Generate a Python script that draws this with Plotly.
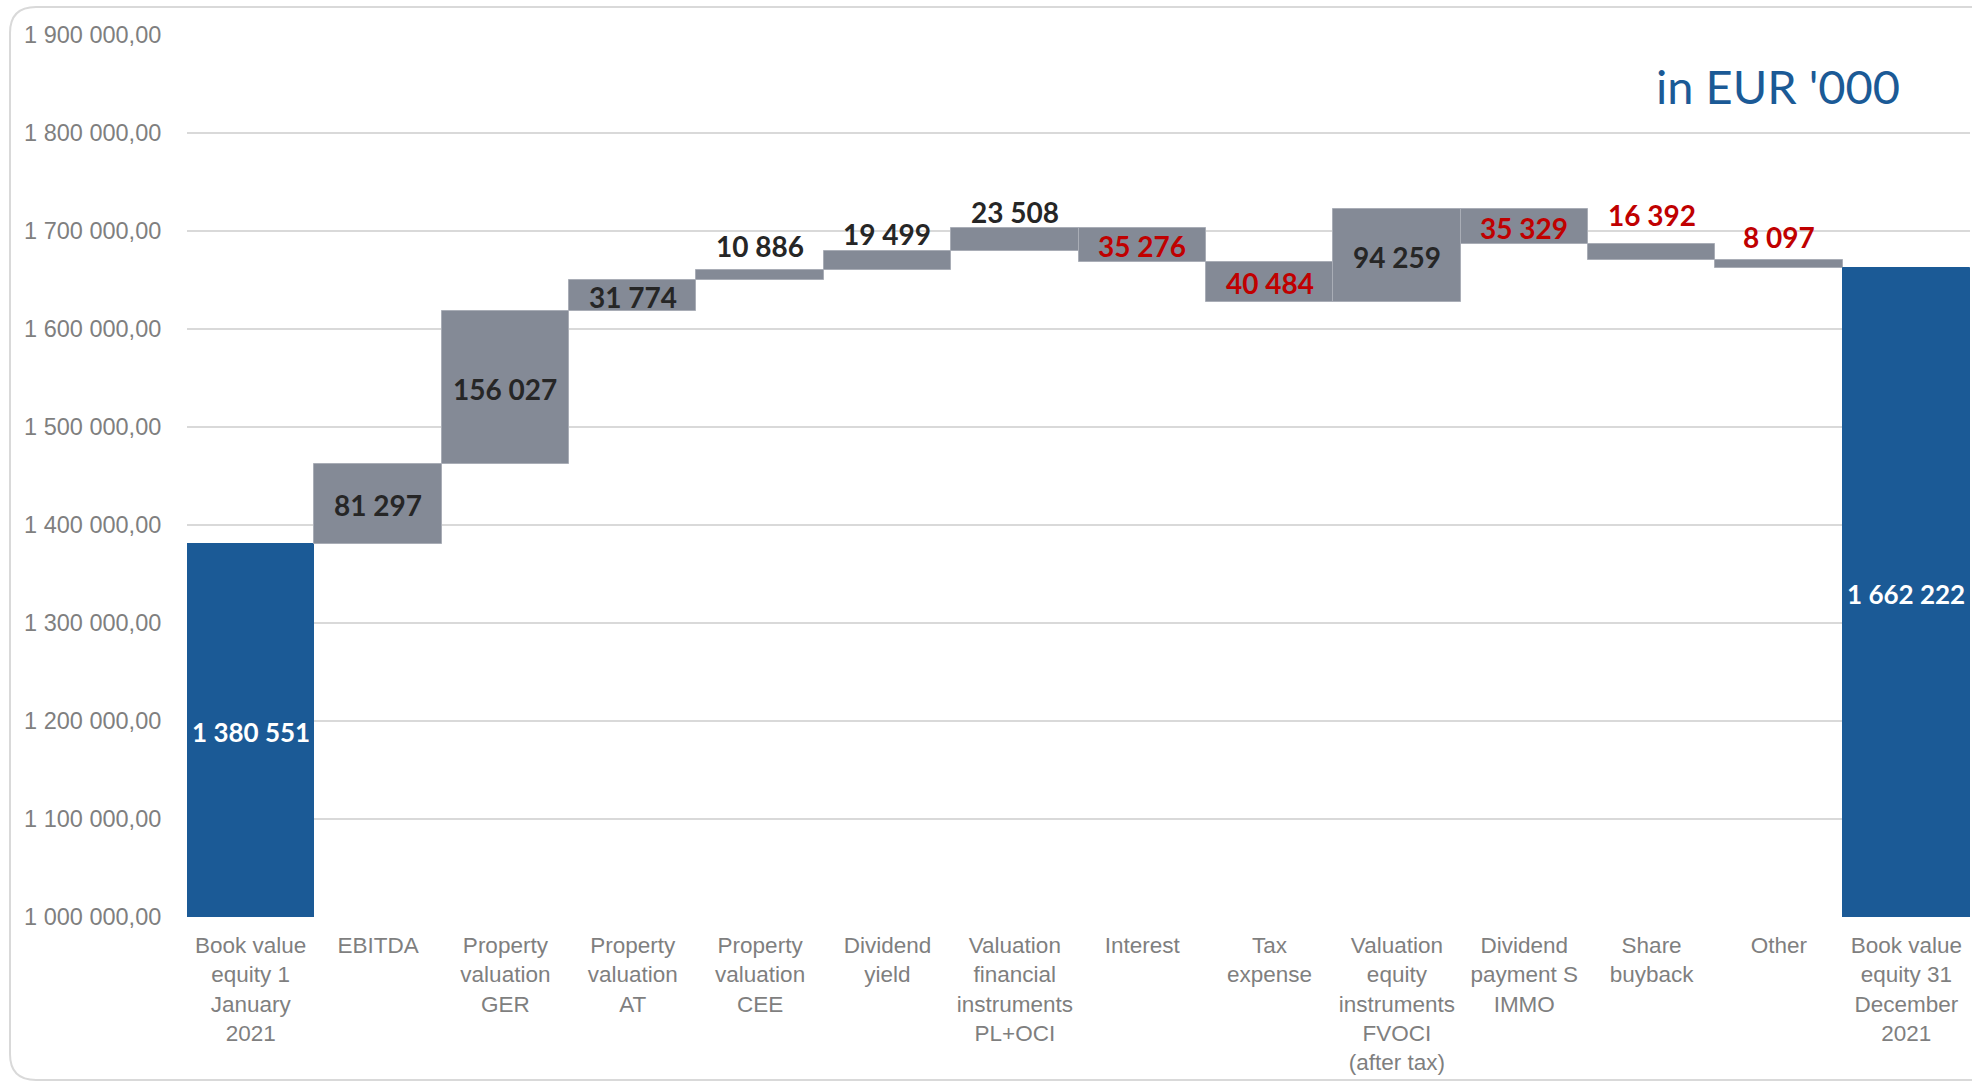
import plotly.graph_objects as go

# Equity bridge 2021, values in EUR '000
categories = [
    "Book value<br>equity 1<br>January<br>2021",
    "EBITDA",
    "Property<br>valuation<br>GER",
    "Property<br>valuation<br>AT",
    "Property<br>valuation<br>CEE",
    "Dividend<br>yield",
    "Valuation<br>financial<br>instruments<br>PL+OCI",
    "Interest",
    "Tax<br>expense",
    "Valuation<br>equity<br>instruments<br>FVOCI<br>(after tax)",
    "Dividend<br>payment S<br>IMMO",
    "Share<br>buyback",
    "Other",
    "Book value<br>equity 31<br>December<br>2021",
]
opening_equity = 1380551
changes = [81297, 156027, 31774, 10886, 19499, 23508,
           -35276, -40484, 94259, -35329, -16392, -8097]
closing_equity = 1662222

y_ticks = [1000000, 1100000, 1200000, 1300000, 1400000,
           1500000, 1600000, 1700000, 1800000, 1900000]

BLUE = "#1b5a96"
GREY = "#848a96"
RED = "#c00000"
DARK = "#262626"

W, H = 1972, 1084
L, R, T, B = 187, 2, 35, 167

# pixel lift of labels that sit above short segments (keyed by category index)
label_lift = {4: 24, 5: 17, 6: 16, 11: 29, 12: 23}
CENTER_NUDGE = -1


def fmt(v):
    return f"{abs(v):,}".replace(",", " ")


# build floating segments
bases, heights, colors, line_colors = [0], [opening_equity], [BLUE], [BLUE]
running = opening_equity
for d in changes:
    lo = running if d > 0 else running + d
    bases.append(lo)
    heights.append(abs(d))
    colors.append(GREY)
    line_colors.append("#a9adb6")
    running += d
bases.append(0)
heights.append(closing_equity)
colors.append(BLUE)
line_colors.append(BLUE)

xs = list(range(len(categories)))

fig = go.Figure()
fig.add_trace(go.Bar(
    x=xs, y=heights, base=bases, width=1.0,
    marker=dict(color=colors, line=dict(color=line_colors, width=1)),
    hoverinfo="skip", showlegend=False,
))

# value labels: centred inside tall segments, above short ones
values = [opening_equity] + changes + [closing_equity]
for i, v in enumerate(values):
    top = bases[i] + heights[i]
    size = 28
    if i in (0, len(values) - 1):
        y, shift, c = (max(bases[i], 1000000) + top) / 2, CENTER_NUDGE, "white"
        size = 26
    elif i in label_lift:
        y, shift, c = top, label_lift[i], (DARK if v > 0 else RED)
    else:
        y, shift, c = bases[i] + heights[i] / 2, CENTER_NUDGE, (DARK if v > 0 else RED)
    fig.add_annotation(
        x=i, y=y, text=fmt(v), showarrow=False,
        xanchor="center", yanchor="middle", yshift=shift,
        font=dict(family="Lato", size=size, color=c, weight="bold"),
    )

# rounded frame around the chart
pw, ph = W - L - R, H - T - B


def px(x):
    return (x - L) / pw


def py(y):
    return (H - B - y) / ph


x0, x1, y0, y1, rad = 10, 1995, 7, 1080, 26
frame = (
    f"M {px(x0)},{py(y0 + rad)} "
    f"Q {px(x0)},{py(y0)} {px(x0 + rad)},{py(y0)} "
    f"L {px(x1 - rad)},{py(y0)} "
    f"Q {px(x1)},{py(y0)} {px(x1)},{py(y0 + rad)} "
    f"L {px(x1)},{py(y1 - rad)} "
    f"Q {px(x1)},{py(y1)} {px(x1 - rad)},{py(y1)} "
    f"L {px(x0 + rad)},{py(y1)} "
    f"Q {px(x0)},{py(y1)} {px(x0)},{py(y1 - rad)} Z"
)
fig.add_shape(type="path", path=frame, xref="paper", yref="paper",
              line=dict(color="#d9d9d9", width=2), layer="below")

fig.add_annotation(
    text="in EUR '000", xref="paper", yref="paper",
    x=px(1778), y=py(86), xanchor="center", yanchor="middle",
    showarrow=False,
    font=dict(family="Lato", size=47, color=BLUE),
)

fig.update_layout(
    width=W, height=H,
    margin=dict(l=L, r=R, t=T, b=B, pad=0),
    paper_bgcolor="white", plot_bgcolor="white",
    separators=", ",
    bargap=0,
    font=dict(family="Liberation Sans, Arial", color="#7f7f7f"),
    xaxis=dict(
        range=[-0.5, len(categories) - 0.5],
        tickmode="array", tickvals=xs, ticktext=categories,
        tickfont=dict(size=22.5, color="#7f7f7f"),
        ticks="outside", ticklen=8, tickcolor="rgba(0,0,0,0)",
        showgrid=False, zeroline=False, showline=False,
    ),
    yaxis=dict(
        range=[1000000, 1900000],
        tickmode="array", tickvals=y_ticks,
        tickformat=",.2f",
        tickfont=dict(size=23.5, color="#7f7f7f"),
        ticks="outside", ticklen=20, tickcolor="rgba(0,0,0,0)",
        showgrid=True, gridcolor="#d9d9d9", gridwidth=2,
        zeroline=False, showline=False,
    ),
)

fig.write_html("out.html")
